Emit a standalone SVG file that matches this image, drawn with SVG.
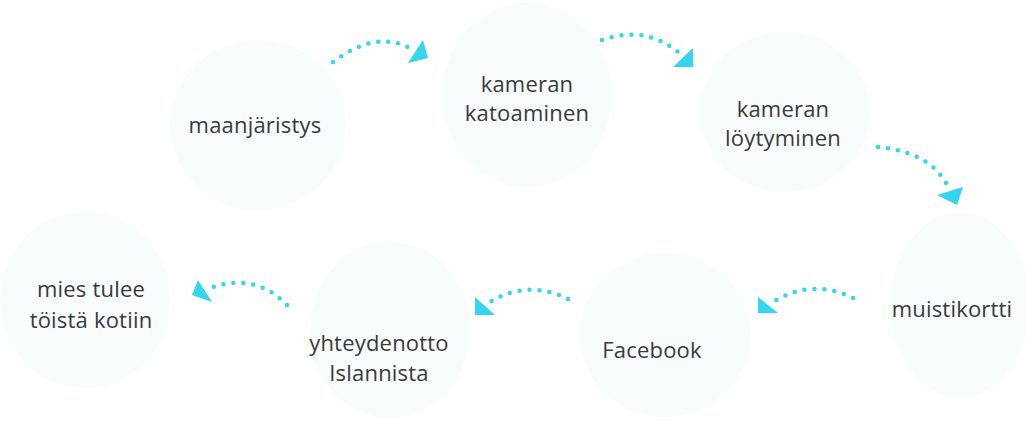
<svg xmlns="http://www.w3.org/2000/svg" width="1025" height="433" viewBox="0 0 1025 433">
<style>
.bg{fill:#f8fcfd}
.t{font-family:"Open Sans","Noto Sans","Liberation Sans",sans-serif;font-size:22px;letter-spacing:0.2px;fill:#3a3a3a;text-anchor:middle}
.d{fill:none;stroke:#33d6ee;stroke-width:4.5;stroke-linecap:round;stroke-dasharray:0 10}
.h{fill:#33d6ee}
</style>
<rect width="1025" height="433" fill="#fff"/>
<g id="n1">
<ellipse class="bg" cx="258" cy="125" rx="88" ry="85"/>
<text class="t" x="255" y="133">maanjäristys</text>
</g>
<g id="n2">
<ellipse class="bg" cx="527" cy="95" rx="85" ry="92"/>
<text class="t" x="527" y="92">kameran</text>
<text class="t" x="527" y="121">katoaminen</text>
</g>
<g id="n3">
<ellipse class="bg" cx="785" cy="112" rx="85" ry="80"/>
<text class="t" x="783" y="117">kameran</text>
<text class="t" x="783" y="146">löytyminen</text>
</g>
<g id="n4">
<ellipse class="bg" cx="960" cy="305" rx="70" ry="92"/>
<text class="t" x="952" y="317">muistikortti</text>
</g>
<g id="n5">
<ellipse class="bg" cx="665" cy="335" rx="85" ry="82"/>
<text class="t" x="652" y="358">Facebook</text>
</g>
<g id="n6">
<ellipse class="bg" cx="390" cy="330" rx="80" ry="88"/>
<text class="t" x="379" y="351">yhteydenotto</text>
<text class="t" x="379" y="381">Islannista</text>
</g>
<g id="n7">
<ellipse class="bg" cx="85" cy="300" rx="85" ry="88"/>
<text class="t" x="91" y="297">mies tulee</text>
<text class="t" x="91" y="328">töistä kotiin</text>
</g>
<g id="connectors">
<path class="d" d="M333 62 Q375 30 410 48"/>
<polygon class="h" points="423,40 408,63 428,58"/>
<path class="d" d="M602 40 Q645 25 678 52"/>
<polygon class="h" points="693,48 673,67 693,67"/>
<path class="d" d="M878 147 Q930 152 947 185"/>
<polygon class="h" points="937,195 963,187 957,205"/>
<path class="d" d="M853 298 Q812 278 773 302"/>
<polygon class="h" points="758,297 758,313 778,313"/>
<path class="d" d="M568 299 Q528 279 490 302"/>
<polygon class="h" points="475,297 475,315 495,315"/>
<path class="d" d="M287 305 Q255 272 210 288"/>
<polygon class="h" points="198,280 192,295 212,302"/>
</g>
</svg>
